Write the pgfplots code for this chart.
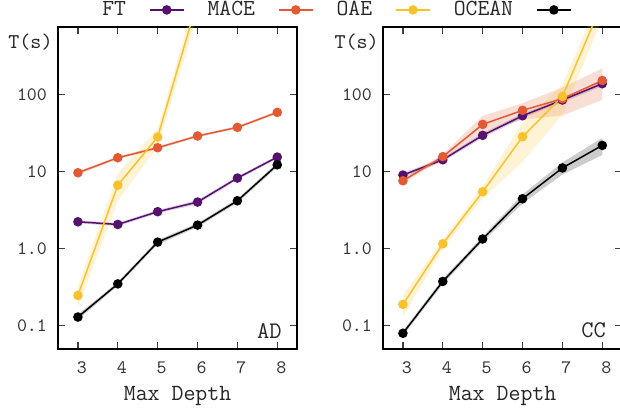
\documentclass[border=0pt]{standalone}
\usepackage{fontspec}
\usepackage{pgfplots}
\pgfplotsset{compat=1.18}
\renewcommand*\familydefault{\ttdefault}

\definecolor{cFT}{HTML}{56106E}
\definecolor{cMACE}{HTML}{E35933}
\definecolor{cOAE}{HTML}{F9C22C}
\definecolor{cOCEAN}{HTML}{000000}

\pgfplotsset{
  every axis/.append style={
    scale only axis, width=119.6pt, height=161pt,
    xmin=2.5, xmax=8.5, ymin=0.05, ymax=757,
    xtick={3,4,5,6,7,8},
    ytick={0.1,1,10,100}, yticklabels={0.1,1.0,10,100},
    tick align=inside, major tick length=3.5pt,
    axis line style={line width=0.75pt},
    tick style={black!75, line width=0.6pt},
    tick label style={font=\ttfamily\fontsize{9.5}{11}\selectfont, text=black!80},
    xticklabel style={xshift=2pt, yshift=-3pt},
    yticklabel style={xshift=-2pt},
    xlabel style={font=\ttfamily\fontsize{11.6}{13}\selectfont, text=black!85, at={(axis description cs:0.5,0)}, anchor=center, yshift=-23.3pt},
  },
}

\begin{document}
\begin{tikzpicture}
\begin{axis}[ymode=log, yminorticks=false, xlabel={Max Depth},
  /pgf/number format/assume math mode=true,
  at={(0pt,0pt)}, anchor=south west,
  legend columns=4, legend plot pos=right,
  legend style={draw=none, fill=none, at={(1.158,1.053)}, anchor=center,
    font=\ttfamily\fontsize{11.5}{13}\selectfont, text=black!85, /tikz/column sep=9.5pt},
  after end axis/.code={
    \node[font=\ttfamily\fontsize{10.5}{12}\selectfont, text=black!85] at (rel axis cs:-0.115,0.952) {T(s)};
  }]
  \addplot[fill=cFT, fill opacity=0.2, draw=none, no markers, forget plot] coordinates {(3,2.34) (4,2.17) (5,3.18) (6,4.29) (7,8.68) (8,16.2) (8,14.8) (7,7.88) (6,3.79) (5,2.88) (4,1.97) (3,2.14)};
  \addplot[fill=cMACE, fill opacity=0.2, draw=none, no markers, forget plot] coordinates {(3,10.2) (4,15.9) (5,21.4) (6,30.3) (7,39.3) (8,61.5) (8,56.5) (7,36.1) (6,27.9) (5,19.6) (4,14.5) (3,9.2)};
  \addplot[fill=cOAE, fill opacity=0.2, draw=none, no markers, forget plot] coordinates {(3,0.33) (4,9.5) (5,36) (6,2260) (6,1060) (5,21) (4,4.2) (3,0.17)};
  \addplot[fill=cOCEAN, fill opacity=0.2, draw=none, no markers, forget plot] coordinates {(3,0.14) (4,0.37) (5,1.30) (6,2.15) (7,4.45) (8,13.1) (8,11.5) (7,3.95) (6,1.91) (5,1.14) (4,0.33) (3,0.12)};
  \addplot[color=cFT, line width=0.75pt, mark=*, mark size=2pt, mark options={solid}] coordinates {(3,2.24) (4,2.07) (5,3.03) (6,4.04) (7,8.28) (8,15.5)};
  \addplot[color=cMACE, line width=0.75pt, mark=*, mark size=2pt, mark options={solid}] coordinates {(3,9.7) (4,15.2) (5,20.5) (6,29.1) (7,37.7) (8,59)};
  \addplot[color=cOAE, line width=0.75pt, mark=*, mark size=2pt, mark options={solid}] coordinates {(3,0.248) (4,6.7) (5,28.2) (6,1660)};
  \addplot[color=cOCEAN, line width=0.75pt, mark=*, mark size=2pt, mark options={solid}] coordinates {(3,0.13) (4,0.35) (5,1.22) (6,2.03) (7,4.2) (8,12.3)};
  \legend{FT,MACE,OAE,OCEAN}
  \node[anchor=east, inner sep=0pt, font=\ttfamily\fontsize{11.9}{13}\selectfont, text=black!85, xshift=-7.6pt, yshift=9.2pt] at (rel axis cs:1,0) {AD};
\end{axis}
\begin{axis}[ymode=log, yminorticks=false, xlabel={Max Depth},
  /pgf/number format/assume math mode=true,
  at={(162.5pt,0pt)}, anchor=south west,
  after end axis/.code={
    \node[font=\ttfamily\fontsize{10.5}{12}\selectfont, text=black!85] at (rel axis cs:-0.11,0.952) {T(s)};
  }]
  \addplot[fill=cFT, fill opacity=0.2, draw=none, no markers, forget plot] coordinates {(3,9.66) (4,15.1) (5,31.7) (6,56.8) (7,91.3) (8,149) (8,129) (7,79.3) (6,49.8) (5,27.7) (4,13.5) (3,8.46)};
  \addplot[fill=cMACE, fill opacity=0.2, draw=none, no markers, forget plot] coordinates {(3,8.24) (4,16.9) (5,53) (6,77.7) (7,123.7) (8,220) (8,86) (7,53.7) (6,47.7) (5,31.2) (4,14.5) (3,7.04)};
  \addplot[fill=cOAE, fill opacity=0.2, draw=none, no markers, forget plot] coordinates {(3,0.25) (4,1.31) (5,6.5) (6,43.5) (7,135) (8,2160) (8,960) (7,55) (6,13.5) (5,4.5) (4,1.01) (3,0.13)};
  \addplot[fill=cOCEAN, fill opacity=0.2, draw=none, no markers, forget plot] coordinates {(3,0.086) (4,0.407) (5,1.44) (6,5.06) (7,13.2) (8,27.5) (8,16.5) (7,9.2) (6,3.86) (5,1.24) (4,0.347) (3,0.074)};
  \addplot[color=cFT, line width=0.75pt, mark=*, mark size=2pt, mark options={solid}] coordinates {(3,9.06) (4,14.3) (5,29.7) (6,53.3) (7,85.3) (8,139)};
  \addplot[color=cMACE, line width=0.75pt, mark=*, mark size=2pt, mark options={solid}] coordinates {(3,7.64) (4,15.7) (5,41.2) (6,62.7) (7,88.7) (8,153)};
  \addplot[color=cOAE, line width=0.75pt, mark=*, mark size=2pt, mark options={solid}] coordinates {(3,0.19) (4,1.16) (5,5.5) (6,28.5) (7,95) (8,1560)};
  \addplot[color=cOCEAN, line width=0.75pt, mark=*, mark size=2pt, mark options={solid}] coordinates {(3,0.08) (4,0.377) (5,1.34) (6,4.46) (7,11.2) (8,22)};
  \node[anchor=east, inner sep=0pt, font=\ttfamily\fontsize{11.9}{13}\selectfont, text=black!85, xshift=-8pt, yshift=9.2pt] at (rel axis cs:1,0) {CC};
\end{axis}
\pgfresetboundingbox
\useasboundingbox (-29pt,-31pt) rectangle (281pt,174.5pt);
\end{tikzpicture}
\end{document}
